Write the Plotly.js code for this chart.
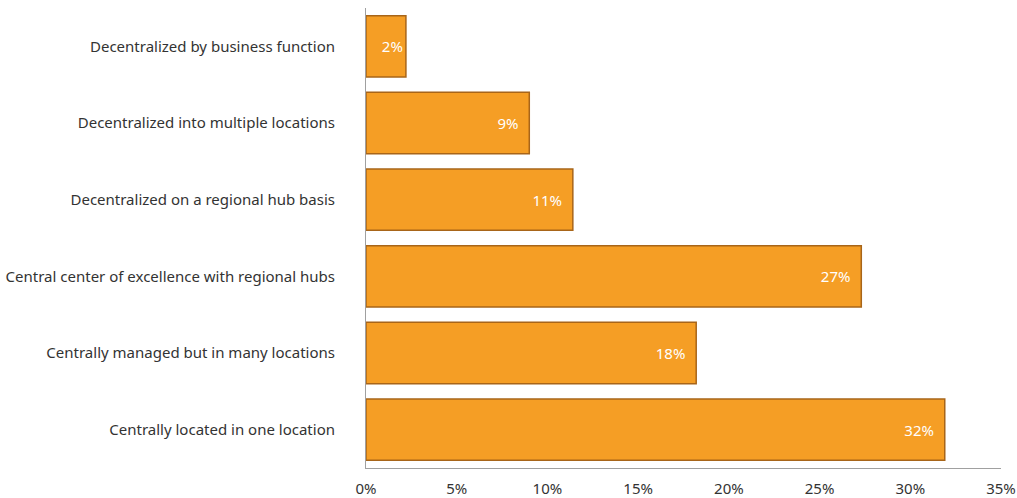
<!DOCTYPE html>
<html>
<head>
<meta charset="utf-8">
<script src="https://cdn.plot.ly/plotly-3.0.1.min.js"></script>
<style>html,body{margin:0;padding:0;background:#fff;}#chart{width:1017px;height:498px;}</style>
</head>
<body>
<div id="chart"></div>
<script>
const categories = [
  "Centrally located in one location",
  "Centrally managed but in many locations",
  "Central center of excellence with regional hubs",
  "Decentralized on a regional hub basis",
  "Decentralized into multiple locations",
  "Decentralized by business function"
];
const values = [31.9, 18.2, 27.3, 11.4, 9.0, 2.2];
const labels = ["32%", "18%", "27%", "11%", "9%", "2%"];
const tickVals = [0, 5, 10, 15, 20, 25, 30, 35];
const tickText = ["0%", "5%", "10%", "15%", "20%", "25%", "30%", "35%"];

const pad = "\u00a0\u00a0";
const trace = {
  type: "bar",
  orientation: "h",
  y: categories,
  x: values,
  text: labels.map(function (t, i) { return values[i] < 5 ? t : t + pad; }),
  textposition: "inside",
  insidetextanchor: "end",
  textfont: {color: "#ffffff", size: 15, family: "Noto Sans, sans-serif"},
  marker: {color: "#F59E25", line: {color: "#A86519", width: 1.5}},
  hoverinfo: "skip"
};

const layout = {
  width: 1017, height: 498,
  margin: {l: 366, r: 16, t: 8, b: 30},
  paper_bgcolor: "#ffffff", plot_bgcolor: "#ffffff",
  bargap: 0.2,
  showlegend: false,
  font: {family: "Noto Sans, sans-serif", size: 15, color: "#333333"},
  xaxis: {
    range: [0, 35], tickvals: tickVals, ticktext: tickText,
    showgrid: false, zeroline: false,
    showline: true, linecolor: "#a0a0a0", linewidth: 1,
    ticks: "outside", ticklen: 7, tickcolor: "rgba(0,0,0,0)",
    tickfont: {size: 15, color: "#333333"}, fixedrange: true
  },
  yaxis: {
    range: [-0.5, 5.5], showgrid: false, zeroline: false,
    showline: true, linecolor: "#a0a0a0", linewidth: 1,
    ticks: "outside", ticklen: 27, tickcolor: "rgba(0,0,0,0)",
    tickfont: {size: 15, color: "#333333"}, fixedrange: true
  }
};

Plotly.newPlot("chart", [trace], layout, {displayModeBar: false, staticPlot: true});
</script>
</body>
</html>
